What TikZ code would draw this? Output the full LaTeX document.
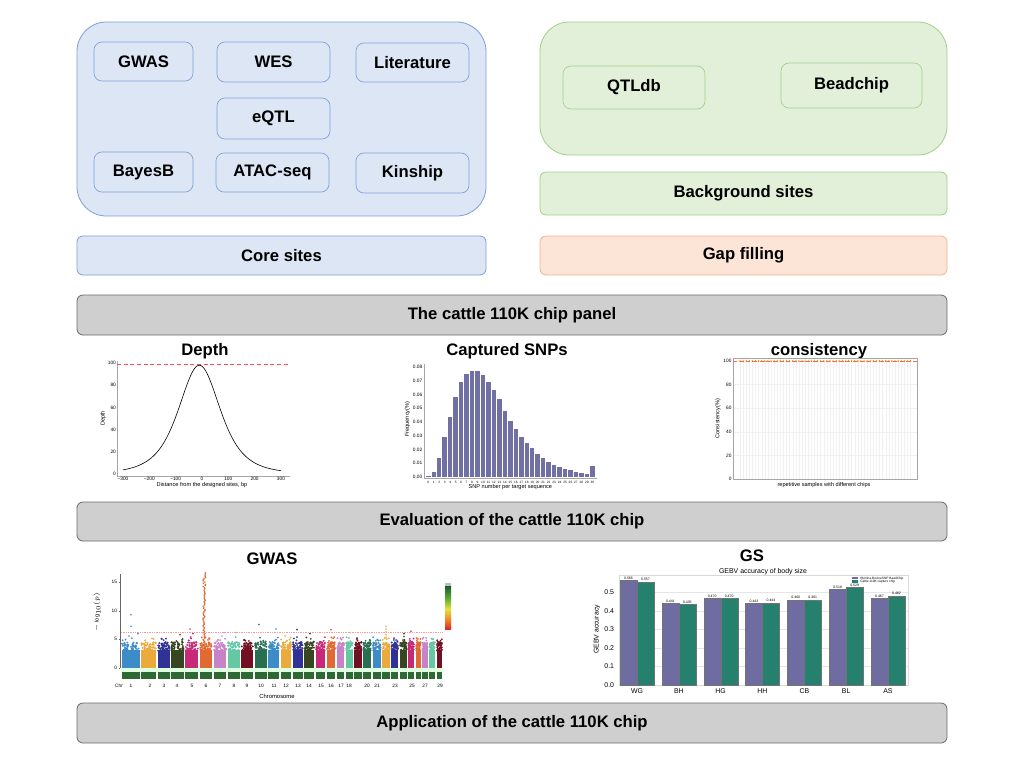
\documentclass[tikz,border=0pt]{standalone}
\usepackage{fontspec}
\setmainfont{Liberation Sans}
\usetikzlibrary{positioning}

\definecolor{blueFill}{RGB}{220,230,245}
\definecolor{blueLine}{RGB}{126,160,215}
\definecolor{greenFill}{RGB}{226,240,217}
\definecolor{greenLine}{RGB}{160,208,135}
\definecolor{peachFill}{RGB}{252,228,214}
\definecolor{peachLine}{RGB}{240,180,140}
\definecolor{grayFill}{RGB}{208,207,207}
\definecolor{grayLine}{RGB}{105,105,105}
\definecolor{barPurple}{RGB}{112,112,165}
\definecolor{gsPurple}{RGB}{110,108,160}
\definecolor{gsGreen}{RGB}{38,128,110}
\definecolor{chipGreen}{RGB}{45,105,50}
\definecolor{chrA}{RGB}{61,140,200}
\definecolor{chrB}{RGB}{235,170,60}
\definecolor{chrC}{RGB}{50,50,150}
\definecolor{chrD}{RGB}{55,70,30}
\definecolor{chrE}{RGB}{200,40,120}
\definecolor{chrF}{RGB}{225,105,50}
\definecolor{chrG}{RGB}{200,130,200}
\definecolor{chrH}{RGB}{100,200,165}
\definecolor{chrI}{RGB}{115,15,35}
\definecolor{chrJ}{RGB}{40,110,80}
\definecolor{cbDark}{RGB}{30,90,40}
\definecolor{cbGreen}{RGB}{90,170,50}
\definecolor{cbYellow}{RGB}{230,225,60}
\definecolor{cbOrange}{RGB}{240,140,40}
\definecolor{cbRed}{RGB}{220,40,40}

\newcommand\boxfont{\fontsize{12.5}{15}\selectfont\bfseries}
\newcommand\ticklabfont{\fontsize{3.6}{4}\selectfont}
\newcommand\axisfont{\fontsize{4.2}{5}\selectfont}
\newcommand\gsfont{\fontsize{5.2}{6}\selectfont}

\begin{document}
\begin{tikzpicture}[x=0.75pt, y=-0.75pt,
  box/.style={rounded corners=4.5pt, line width=0.6pt, align=center, font=\boxfont, inner sep=0pt},
  boxsize/.style 2 args={minimum width=#1*0.75pt, minimum height=#2*0.75pt},
  innerbox/.style={rounded corners=6pt, line width=0.5pt},
  corebox/.style={box, fill=blueFill, draw=blueLine},
  bgbox/.style={box, fill=greenFill, draw=greenLine},
  gapbox/.style={box, fill=peachFill, draw=peachLine},
  stagebox/.style={box, fill=grayFill, draw=grayLine},
  plottitle/.style={font=\boxfont, inner sep=0pt, anchor=base},
  ticklab/.style={font=\ticklabfont, inner sep=0.6pt},
  axislabel/.style={font=\axisfont, inner sep=0pt},
  spine/.style={draw=black!35, line width=0.3pt},
  grid/.style={draw=black!6, line width=0.25pt}]

\useasboundingbox (0,0) rectangle (1021,772);

% core sites
\node[corebox, boxsize={409}{194}, rounded corners=22pt] (coreFrame) at (281.5,119) {};
\node[corebox, innerbox, boxsize={99}{39}] (gwas) at (143.5,61.5) {GWAS};
\node[corebox, innerbox, boxsize={113}{40}] (wes) at (273.5,62) {WES};
\node[corebox, innerbox, boxsize={113}{39}] (lit) at (412.5,62.5) {Literature};
\node[corebox, innerbox, boxsize={113}{41}] (eqtl) at (273.5,118.5) {eQTL};
\node[corebox, innerbox, boxsize={99}{40}] (bayes) at (143.5,172) {BayesB};
\node[corebox, innerbox, boxsize={113}{39}] (atac) at (272.5,172.5) {ATAC-seq};
\node[corebox, innerbox, boxsize={113}{40}] (kin) at (412.5,173) {Kinship};
\node[corebox, boxsize={409}{39}] (core) at (281.5,255.5) {Core sites};

% background sites
\node[bgbox, boxsize={407}{133}, rounded corners=22pt] (bgFrame) at (743.5,88.5) {};
\node[bgbox, innerbox, boxsize={142}{43}] (qtldb) at (634,87.5) {QTLdb};
\node[bgbox, innerbox, boxsize={141}{45}] (bead) at (851.5,85.5) {Beadchip};
\node[bgbox, boxsize={407}{43}] (bg) at (743.5,193.5) {Background sites};
\node[gapbox, boxsize={407}{39}] (gap) at (743.5,255.5) {Gap filling};

% stages
\node[stagebox, boxsize={870}{40}] (panel) at (512,315) {The cattle 110K chip panel};
\node[stagebox, boxsize={870}{39}] (eval) at (512,521.5) {Evaluation of the cattle 110K chip};
\node[stagebox, boxsize={870}{40}] (app) at (512,723) {Application of the cattle 110K chip};

% plot titles
\node[plottitle] (tDepth) at (205,355) {Depth};
\node[plottitle] (tSnp) at (507,355) {Captured SNPs};
\node[plottitle] (tCons) at (819,355) {consistency};
\node[plottitle] (tGwas) at (272,564) {GWAS};
\node[plottitle] (tGs) at (752,561) {GS};

% depth curve
\begin{scope}[shift={(202,474)}, xscale=0.2633, yscale=-1.11]
  \draw[spine] (-323,102) -- (-323,-1.8) -- (334,-1.8);
  \draw[red!70, densely dashed, line width=0.3pt] (-323,99) -- (334,99);
  \draw[line width=0.45pt] plot[domain=-300:300, samples=120, smooth] (\x,{98/(1+((\x+10)/150)^2)^2.1});
  \foreach \v in {0,20,40,60,80,100}
    \node[ticklab, anchor=east] (dy\v) at (-323,\v) {\v};
  \foreach \d/\t in {-300/−300,-200/−200,-100/−100,0/0,100/100,200/200,300/300}
    \node[ticklab, anchor=north] (dx\d) at (\d,-1.8) {\t};
  \node[axislabel, rotate=90] (dYlab) at (-375,50) {Depth};
  \node[axislabel] (dXlab) at (0,-9.5) {Distance from the designed sites, bp};
\end{scope}

% captured SNPs per target
\begin{scope}[shift={(428.3,477)}, xscale=5.47, yscale=-13.75]
  \draw[spine] (-0.8,8.2) -- (-0.8,-0.07) -- (30.8,-0.07);
  \foreach \f [count=\i from 0] in {0.1,0.35,1.4,2.9,4.4,5.8,6.9,7.5,7.7,7.7,7.4,6.9,6.3,5.7,4.8,4.1,3.5,2.9,2.5,2.1,1.7,1.4,1.1,0.9,0.7,0.58,0.48,0.38,0.3,0.22,0.8}{
    \fill[barPurple] (\i-0.41,0) rectangle (\i+0.41,\f);
    \node[font=\fontsize{2.4}{3}\selectfont, inner sep=0pt, anchor=north] (sx\i) at (\i,-0.3) {\i};
  }
  \foreach \v/\t in {0/0.00,1/0.01,2/0.02,3/0.03,4/0.04,5/0.05,6/0.06,7/0.07,8/0.08}
    \node[ticklab, anchor=east] (sy\v) at (-0.9,\v) {\t};
  \node[axislabel, rotate=90] (sYlab) at (-3.8,4.2) {Frequency(\%)};
  \node[axislabel] (sXlab) at (15,-0.72) {SNP number per target sequence};
\end{scope}

% consistency of repeated samples
\begin{scope}[shift={(733,479)}, yscale=-1.183]
  \foreach \k in {0,...,55}
    \draw[grid] ({7+\k*3.1},0) -- ({7+\k*3.1},102);
  \foreach \v in {20,40,60,80}
    \draw[grid] (0,\v) -- (184,\v);
  \draw[spine] (0,0) rectangle (184,102.5);
  \draw[red!60, densely dashed, line width=0.3pt] (0,99.4) -- (184,99.4);
  \foreach \k in {0,...,55}
    \fill[orange!90!red] ({7+\k*3.1},99.6) circle[radius=0.85];
  \foreach \v in {0,20,40,60,80,100}
    \node[ticklab, anchor=east] (cy\v) at (-0.5,\v) {\v};
  \node[axislabel, rotate=90] (cYlab) at (-15,51) {Consistency(\%)};
  \node[axislabel] (cXlab) at (91,-5) {repetitive samples with different chips};
\end{scope}

% manhattan plot
\draw[spine, draw=black!60] (120,574) -- (120,668);
\foreach \v in {0,5,10,15}{
  \draw[black!60, line width=0.3pt] (118.5,{668-5.73*\v}) -- (120,{668-5.73*\v});
  \node[ticklab, anchor=east] (my\v) at (118,{668-5.73*\v}) {\v};
}
\node[axislabel, rotate=90] (mYlab) at (97,612) {$-\log_{10}(p)$};
\fill[green!12] (121,668) rectangle (443,671.5);
\pgfmathsetseed{11}
\foreach \a/\b/\c in {121/140.5/chrA,140.5/157/chrB,157/170.5/chrC,170.5/184.5/chrD,184.5/199/chrE,
  199/213/chrF,213/227/chrG,227/240.5/chrH,240.5/254/chrI,254/267.5/chrJ,267.5/280/chrA,
  280/292/chrB,292/303.5/chrC,303.5/315/chrD,315/326/chrE,326/336/chrF,336/345/chrG,
  345/353.5/chrH,353.5/362.5/chrI,362.5/372/chrJ,372/381.5/chrA,381.5/390.5/chrB,
  390.5/399/chrC,399/407.5/chrD,407.5/415/chrE,415/421.5/chrF,421.5/428.5/chrG,
  428.5/436/chrH,436/443/chrI}{
  \fill[\c] (\a+0.6,668) rectangle (\b-0.6,{668-5.73*3.2});
  \foreach \k in {1,...,45}{
    \pgfmathsetmacro\mx{\a+1+rnd*(\b-\a-2)}
    \pgfmathsetmacro\my{668-5.73*(3.0+1.5*rnd)}
    \fill[\c] (\mx,\my) circle[radius=1.1];
  }
  \foreach \k in {1,...,5}{
    \pgfmathsetmacro\mx{\a+1+rnd*(\b-\a-2)}
    \pgfmathsetmacro\my{668-5.73*(4.3+1.1*rnd)}
    \fill[\c] (\mx,\my) circle[radius=1.0];
  }
  \fill[chipGreen] (\a+0.7,671.5) rectangle (\b-0.7,678.5);
}
\foreach \v in {3.0,3.2,...,16.6}{
  \pgfmathsetmacro\mx{203+rnd*2.5}
  \fill[chrF] (\mx,{668-5.73*\v}) circle[radius=0.9];
}
\foreach \x/\v/\c in {131/9.3/chrA,131/7.3/chrA,129/5.6/chrA,138/6.0/chrA,180/5.8/chrD,
  190/6.8/chrE,193/6.0/chrE,224/6.2/chrG,222/5.6/chrG,236/6.2/chrH,259/7.6/chrJ,260/5.3/chrJ,
  276/6.8/chrA,285/5.6/chrB,297/6.7/chrC,310/6.0/chrD,331/6.7/chrF,350/6.2/chrH,
  386/7.3/chrB,386/6.8/chrB,386/6.3/chrB,386/5.8/chrB,386/5.4/chrB,404/6.0/chrD,404/5.5/chrD,411/6.4/chrE}
  \fill[\c] (\x,{668-5.73*\v}) circle[radius=0.9];
\draw[red!40, densely dotted, line width=0.3pt] (121,631.9) -- (443,631.9);
\node[ticklab, anchor=north] (mChr) at (119,683) {Chr};
\foreach \x/\t in {131/1,150/2,164/3,177/4,192/5,206/6,220/7,234/8,247/9,261/10,274/11,286/12,
  298/13,309/14,321/15,331/16,341/17,349/18,367/20,377/21,395/23,412/25,425/27,440/29}
  \node[ticklab, anchor=north] (mc\t) at (\x,683) {\t};
\node[axislabel, font=\fontsize{4.4}{5}\selectfont] (mXlab) at (277,696) {Chromosome};
% colour key
\fill[black!25] (445,583) rectangle (451,586);
\shade[top color=cbDark, bottom color=cbGreen] (445,586) rectangle (451,598);
\shade[top color=cbGreen, bottom color=cbYellow] (445,598) rectangle (451,609);
\shade[top color=cbYellow, bottom color=cbOrange] (445,609) rectangle (451,619);
\shade[top color=cbOrange, bottom color=cbRed] (445,619) rectangle (451,629);

% genomic selection accuracy
\node[font=\gsfont, inner sep=0pt] (gsTitle) at (763,572) {GEBV accuracy of body size};
\begin{scope}[shift={(0,685)}, yscale=-185]
  \foreach \v in {0.1,0.2,0.3,0.4,0.5}
    \draw[grid, draw=black!10] (619,\v) -- (908,\v);
  \draw[spine, draw=black!15] (619,0) rectangle (908,0.595);
  \foreach \g/\p/\q [count=\k from 0] in {WG/0.566/0.557,BH/0.441/0.435,HG/0.470/0.470,
    HH/0.443/0.444,CB/0.460/0.461,BL/0.518/0.529,AS/0.467/0.482}{
    \pgfmathsetmacro\cx{637+41.83*\k}
    \filldraw[fill=gsPurple, draw=black!55, line width=0.2pt] (\cx-17,0) rectangle (\cx,\p);
    \filldraw[fill=gsGreen, draw=black!55, line width=0.2pt] (\cx,0) rectangle (\cx+17,\q);
    \node[font=\fontsize{2.6}{3}\selectfont, inner sep=0.5pt, anchor=south] (gp\g) at (\cx-8.5,\p) {\p};
    \node[font=\fontsize{2.6}{3}\selectfont, inner sep=0.5pt, anchor=south] (gq\g) at (\cx+8.5,\q) {\q};
    \node[font=\gsfont, inner sep=0pt, anchor=north] (gx\g) at (\cx,-0.017) {\g};
  }
  \foreach \v in {0.0,0.1,0.2,0.3,0.4,0.5}
    \node[font=\gsfont, inner sep=0.5pt, anchor=east] (gy\v) at (615,\v) {\v};
  \node[font=\gsfont, inner sep=0pt, rotate=90] (gYlab) at (597,0.3) {GEBV accuracy};
  % legend
  \fill[gsPurple] (852,0.583) rectangle (858,0.572);
  \fill[gsGreen] (852,0.565) rectangle (858,0.554);
  \node[font=\fontsize{2.4}{3}\selectfont, inner sep=0pt, anchor=west] (gl1) at (860,0.5775) {Illumina BovineSNP BeadChip};
  \node[font=\fontsize{2.4}{3}\selectfont, inner sep=0pt, anchor=west] (gl2) at (860,0.5595) {Cattle 110K capture chip};
\end{scope}

\end{tikzpicture}
\end{document}
